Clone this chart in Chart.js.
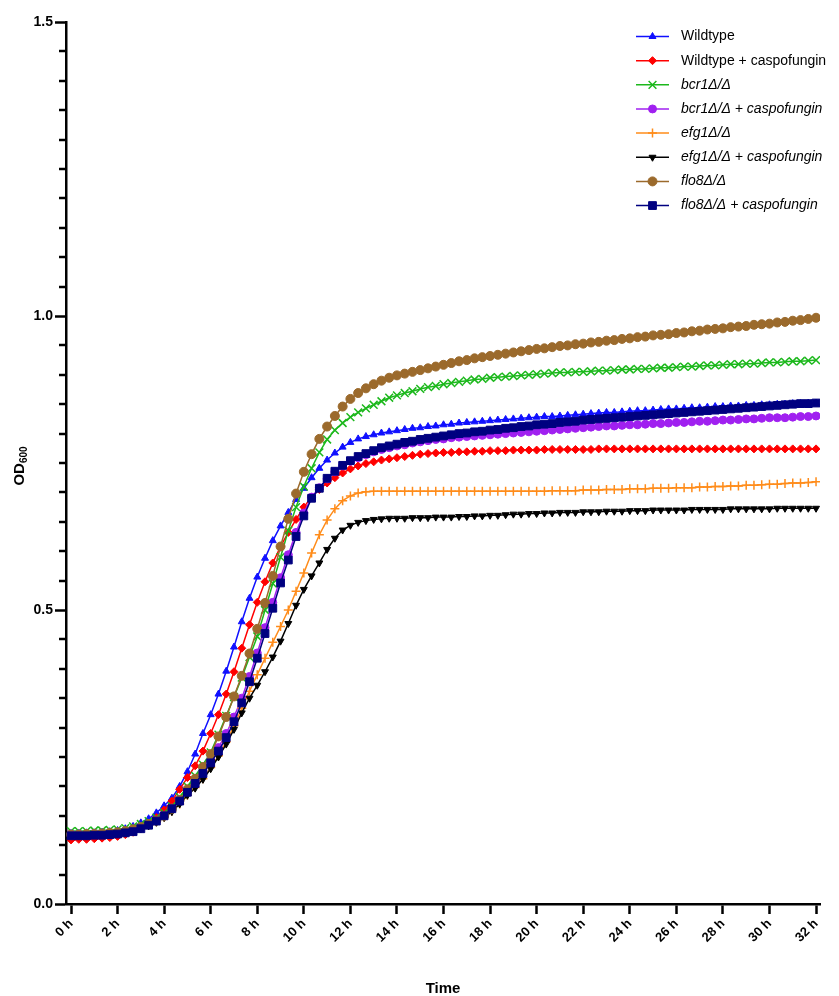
<!DOCTYPE html>
<html>
<head>
<meta charset="utf-8">
<script src="https://cdn.jsdelivr.net/npm/chart.js"></script>
<style>
  html, body { margin: 0; padding: 0; background: #fff; }
</style>
</head>
<body>
<canvas id="growthCurve" width="839" height="996"></canvas>
<script>
// measurements every 20 min, 0 h .. 32 h
const timeHours = Array.from({ length: 97 }, (_, i) => i / 3);

const wildtype = [
  0.120,0.120,0.121, 0.121,0.122,0.123, 0.125,0.128,0.132, 0.138,0.145,0.155,
  0.167,0.180,0.200, 0.225,0.255,0.290, 0.322,0.357,0.396, 0.437,0.480,0.520,
  0.556,0.588,0.618, 0.643,0.666,0.688, 0.707,0.725,0.741, 0.755,0.767,0.777,
  0.785,0.791,0.795, 0.798,0.801,0.803, 0.805,0.807,0.809, 0.810,0.812,0.813,
  0.815,0.816,0.818, 0.819,0.820,0.821, 0.822,0.823,0.824, 0.825,0.826,0.827,
  0.828,0.829,0.829, 0.830,0.831,0.832, 0.833,0.834,0.835, 0.836,0.836,0.837,
  0.838,0.839,0.839, 0.840,0.841,0.842, 0.842,0.843,0.844, 0.844,0.845,0.846,
  0.846,0.847,0.847, 0.848,0.848,0.849, 0.849,0.850,0.850, 0.851,0.851,0.852,
  0.852
];
const wildtypeCaspo = [
  0.109,0.110,0.110, 0.111,0.112,0.113, 0.115,0.118,0.122, 0.129,0.137,0.147,
  0.160,0.175,0.195, 0.215,0.235,0.260, 0.290,0.322,0.357, 0.395,0.435,0.475,
  0.513,0.548,0.580, 0.608,0.632,0.654, 0.675,0.692,0.705, 0.716,0.725,0.733,
  0.740,0.745,0.749, 0.752,0.755,0.757, 0.759,0.761,0.763, 0.765,0.766,0.767,
  0.768,0.768,0.769, 0.769,0.770,0.770, 0.771,0.771,0.771, 0.772,0.772,0.772,
  0.772,0.773,0.773, 0.773,0.773,0.773, 0.773,0.773,0.774, 0.774,0.774,0.774,
  0.774,0.774,0.774, 0.774,0.774,0.774, 0.774,0.774,0.774, 0.774,0.774,0.774,
  0.774,0.774,0.774, 0.774,0.774,0.774, 0.774,0.774,0.774, 0.774,0.774,0.774,
  0.774
];
const bcr1 = [
  0.124,0.124,0.124, 0.125,0.125,0.126, 0.127,0.129,0.132, 0.136,0.141,0.147,
  0.155,0.166,0.182, 0.200,0.218,0.237, 0.258,0.288,0.320, 0.352,0.385,0.420,
  0.455,0.500,0.545, 0.590,0.635,0.675, 0.710,0.741,0.768, 0.790,0.806,0.818,
  0.828,0.836,0.843, 0.849,0.855,0.861, 0.865,0.869,0.872, 0.876,0.879,0.881,
  0.884,0.886,0.888, 0.890,0.892,0.893, 0.895,0.896,0.897, 0.898,0.899,0.900,
  0.901,0.902,0.903, 0.904,0.904,0.905, 0.905,0.906,0.907, 0.907,0.908,0.909,
  0.909,0.910,0.910, 0.911,0.912,0.912, 0.913,0.914,0.914, 0.915,0.916,0.916,
  0.917,0.918,0.918, 0.919,0.919,0.920, 0.921,0.921,0.922, 0.923,0.923,0.924,
  0.925
];
const bcr1Caspo = [
  0.119,0.119,0.119, 0.120,0.120,0.121, 0.122,0.124,0.126, 0.130,0.135,0.142,
  0.151,0.163,0.177, 0.193,0.209,0.226, 0.245,0.266,0.290, 0.318,0.350,0.387,
  0.427,0.470,0.513, 0.555,0.594,0.632, 0.665,0.692,0.708, 0.723,0.735,0.745,
  0.753,0.759,0.764, 0.769,0.773,0.776, 0.779,0.781,0.784, 0.786,0.788,0.790,
  0.791,0.793,0.794, 0.795,0.796,0.797, 0.798,0.799,0.800, 0.801,0.802,0.803,
  0.804,0.805,0.806, 0.807,0.808,0.809, 0.810,0.811,0.812, 0.813,0.813,0.814,
  0.815,0.815,0.816, 0.817,0.817,0.818, 0.819,0.819,0.820, 0.821,0.821,0.822,
  0.823,0.823,0.824, 0.825,0.825,0.826, 0.827,0.827,0.827, 0.828,0.829,0.829,
  0.830
];
const efg1 = [
  0.118,0.118,0.118, 0.119,0.119,0.120, 0.121,0.123,0.125, 0.129,0.134,0.140,
  0.148,0.158,0.170, 0.185,0.198,0.213, 0.232,0.252,0.276, 0.303,0.333,0.362,
  0.390,0.418,0.445, 0.472,0.500,0.532, 0.563,0.597,0.628, 0.653,0.672,0.686,
  0.694,0.699,0.701, 0.702,0.702,0.702, 0.702,0.702,0.702, 0.702,0.702,0.702,
  0.702,0.702,0.702, 0.702,0.702,0.702, 0.702,0.702,0.702, 0.702,0.702,0.702,
  0.702,0.702,0.703, 0.703,0.703,0.703, 0.704,0.704,0.704, 0.705,0.705,0.705,
  0.706,0.706,0.706, 0.707,0.707,0.707, 0.708,0.708,0.708, 0.709,0.709,0.710,
  0.710,0.711,0.711, 0.712,0.712,0.713, 0.714,0.714,0.715, 0.716,0.716,0.717,
  0.718
];
const efg1Caspo = [
  0.117,0.117,0.117, 0.118,0.118,0.119, 0.120,0.122,0.124, 0.128,0.133,0.139,
  0.147,0.157,0.170, 0.185,0.197,0.212, 0.230,0.250,0.272, 0.297,0.325,0.350,
  0.372,0.395,0.420, 0.447,0.477,0.508, 0.535,0.558,0.580, 0.603,0.622,0.636,
  0.644,0.649,0.652, 0.654,0.655,0.656, 0.656,0.656,0.657, 0.657,0.657,0.658,
  0.658,0.658,0.659, 0.659,0.660,0.660, 0.661,0.661,0.662, 0.663,0.663,0.664,
  0.664,0.665,0.665, 0.666,0.666,0.666, 0.667,0.667,0.667, 0.668,0.668,0.668,
  0.669,0.669,0.669, 0.670,0.670,0.670, 0.670,0.670,0.671, 0.671,0.671,0.671,
  0.671,0.672,0.672, 0.672,0.672,0.672, 0.672,0.673,0.673, 0.673,0.673,0.673,
  0.673
];
const flo8 = [
  0.118,0.118,0.119, 0.119,0.120,0.121, 0.122,0.124,0.127, 0.131,0.136,0.142,
  0.150,0.162,0.177, 0.195,0.213,0.233, 0.255,0.285,0.318, 0.353,0.388,0.426,
  0.468,0.512,0.558, 0.608,0.655,0.698, 0.735,0.765,0.791, 0.812,0.830,0.846,
  0.859,0.869,0.877, 0.884,0.890,0.895, 0.899,0.902,0.905, 0.908,0.911,0.914,
  0.917,0.920,0.923, 0.925,0.928,0.930, 0.932,0.934,0.936, 0.938,0.940,0.942,
  0.944,0.945,0.947, 0.949,0.950,0.952, 0.953,0.955,0.956, 0.958,0.959,0.961,
  0.962,0.964,0.965, 0.967,0.968,0.969, 0.971,0.972,0.974, 0.975,0.977,0.978,
  0.979,0.981,0.982, 0.983,0.985,0.986, 0.987,0.989,0.990, 0.992,0.993,0.995,
  0.997
];
const flo8Caspo = [
  0.116,0.116,0.116, 0.117,0.117,0.118, 0.119,0.121,0.123, 0.128,0.134,0.141,
  0.150,0.162,0.175, 0.190,0.205,0.222, 0.240,0.260,0.283, 0.310,0.342,0.378,
  0.418,0.460,0.503, 0.546,0.585,0.625, 0.660,0.690,0.707, 0.724,0.736,0.746,
  0.754,0.761,0.766, 0.771,0.776,0.779, 0.782,0.785,0.787, 0.790,0.792,0.794,
  0.796,0.798,0.800, 0.801,0.803,0.804, 0.806,0.807,0.809, 0.810,0.812,0.813,
  0.815,0.816,0.817, 0.819,0.820,0.821, 0.823,0.824,0.825, 0.826,0.827,0.828,
  0.829,0.830,0.831, 0.832,0.833,0.834, 0.835,0.836,0.837, 0.838,0.839,0.840,
  0.841,0.842,0.843, 0.844,0.845,0.846, 0.847,0.848,0.849, 0.850,0.851,0.851,
  0.852
];

const FONT = 'Arial, "Liberation Sans", Helvetica, sans-serif';

function strain(label, data, color, style, radius, extra) {
  return Object.assign({
    label: label,
    data: data,
    borderColor: color,
    backgroundColor: color,
    borderWidth: 1.5,
    pointStyle: style,
    pointRadius: radius,
    pointHoverRadius: radius,
    pointBorderWidth: 1,
    pointBackgroundColor: color,
    pointBorderColor: color,
    italic: false
  }, extra || {});
}

const datasets = [
  strain('Wildtype', wildtype, '#1010ff', 'triangle', 4),
  strain('Wildtype + caspofungin', wildtypeCaspo, '#ff0000', 'rectRot', 4),
  strain('bcr1\u0394/\u0394', bcr1, '#1cb81c', 'crossRot', 5.5, { pointBorderWidth: 1.5, italic: true }),
  strain('bcr1\u0394/\u0394 + caspofungin', bcr1Caspo, '#a020f0', 'circle', 4, { italic: true }),
  strain('efg1\u0394/\u0394', efg1, '#ff8c1a', 'cross', 4.5, { pointBorderWidth: 1.5, italic: true }),
  strain('efg1\u0394/\u0394 + caspofungin', efg1Caspo, '#000000', 'triangle', 4, { pointRotation: 180, italic: true }),
  strain('flo8\u0394/\u0394', flo8, '#9b6a2c', 'circle', 4.5, { italic: true }),
  strain('flo8\u0394/\u0394 + caspofungin', flo8Caspo, '#000080', 'rect', 5.5, { italic: true })
];
// later series sit on top
datasets.forEach((d, i) => { d.order = datasets.length - i; });

// y-axis title with subscript
const odTitle = {
  id: 'odTitle',
  afterDraw(chart) {
    const ctx = chart.ctx;
    const area = chart.chartArea;
    const cy = (area.top + area.bottom) / 2 + 3;
    ctx.save();
    ctx.translate(24, cy);
    ctx.rotate(-Math.PI / 2);
    ctx.fillStyle = '#000';
    ctx.textBaseline = 'alphabetic';
    ctx.font = 'bold 15px ' + FONT;
    const w1 = ctx.measureText('OD').width;
    ctx.font = 'bold 10px ' + FONT;
    const w2 = ctx.measureText('600').width;
    const start = -(w1 + w2) / 2;
    ctx.font = 'bold 15px ' + FONT;
    ctx.fillText('OD', start, 0);
    ctx.font = 'bold 10px ' + FONT;
    ctx.fillText('600', start + w1, 3);
    ctx.restore();
  }
};

// short minor ticks on the y axis
const minorTicks = {
  id: 'minorTicks',
  afterDraw(chart) {
    const y = chart.scales.y;
    const ctx = chart.ctx;
    ctx.save();
    ctx.strokeStyle = '#000';
    ctx.lineWidth = 2.5;
    y.ticks.forEach(t => {
      if (Math.abs(t.value * 2 - Math.round(t.value * 2)) < 1e-6) return;
      const py = Math.round(y.getPixelForValue(t.value));
      ctx.beginPath();
      ctx.moveTo(y.right - 7, py);
      ctx.lineTo(y.right, py);
      ctx.stroke();
    });
    ctx.restore();
  }
};

// legend with italic strain names
const strainLegend = {
  id: 'strainLegend',
  afterDraw(chart) {
    const ctx = chart.ctx;
    chart.data.datasets.forEach((d, i) => {
      const y = 36.5 + i * 24.15;
      ctx.save();
      ctx.strokeStyle = d.borderColor;
      ctx.fillStyle = d.backgroundColor;
      ctx.lineWidth = 1.5;
      ctx.beginPath();
      ctx.moveTo(636, y);
      ctx.lineTo(669, y);
      ctx.stroke();
      ctx.lineWidth = d.pointBorderWidth;
      Chart.helpers.drawPoint(ctx, {
        pointStyle: d.pointStyle,
        radius: d.pointRadius,
        rotation: d.pointRotation || 0,
        borderWidth: d.pointBorderWidth
      }, 652.5, y);
      ctx.fillStyle = '#000';
      ctx.textBaseline = 'middle';
      ctx.textAlign = 'left';
      ctx.font = (d.italic ? 'italic ' : '') + '14px ' + FONT;
      ctx.fillText(d.label, 681, y);
      ctx.restore();
    });
  }
};

const isMajor = v => Math.abs(v * 2 - Math.round(v * 2)) < 1e-6;

new Chart(document.getElementById('growthCurve').getContext('2d'), {
  type: 'line',
  data: { labels: timeHours, datasets: datasets },
  plugins: [odTitle, minorTicks, strainLegend],
  options: {
    responsive: false,
    animation: false,
    layout: { padding: { top: 22, right: 19, left: 0, bottom: 0 } },
    plugins: { legend: { display: false }, tooltip: { enabled: false } },
    scales: {
      x: {
        type: 'linear',
        min: -0.215,
        max: 32.17,
        ticks: {
          stepSize: 2,
          includeBounds: false,
          autoSkip: false,
          maxRotation: 45,
          minRotation: 45,
          padding: 2,
          color: '#000',
          font: { family: FONT, size: 13, weight: 'bold' },
          callback: v => v + ' h'
        },
        grid: { drawOnChartArea: false, tickLength: 10, tickWidth: 2.5, tickColor: '#000' },
        border: { color: '#000', width: 2.5 },
        title: {
          display: true, text: 'Time', color: '#000', padding: { top: 0, bottom: -2 },
          font: { family: FONT, size: 15, weight: 'bold' }
        },
        afterFit: s => { s.height = 92; }
      },
      y: {
        min: 0,
        max: 1.5,
        ticks: {
          stepSize: 0.05,
          maxTicksLimit: 100,
          autoSkip: false,
          padding: 2,
          color: '#000',
          font: { family: FONT, size: 14, weight: 'bold' },
          callback: v => isMajor(v) ? v.toFixed(1) : ''
        },
        grid: {
          drawOnChartArea: false,
          tickLength: 11,
          tickWidth: 2.5,
          tickColor: c => (c.tick && isMajor(c.tick.value)) ? '#000' : 'rgba(0,0,0,0)'
        },
        border: { color: '#000', width: 2.5 },
        afterFit: s => { s.width = 66; }
      }
    }
  }
});
</script>
</body>
</html>
